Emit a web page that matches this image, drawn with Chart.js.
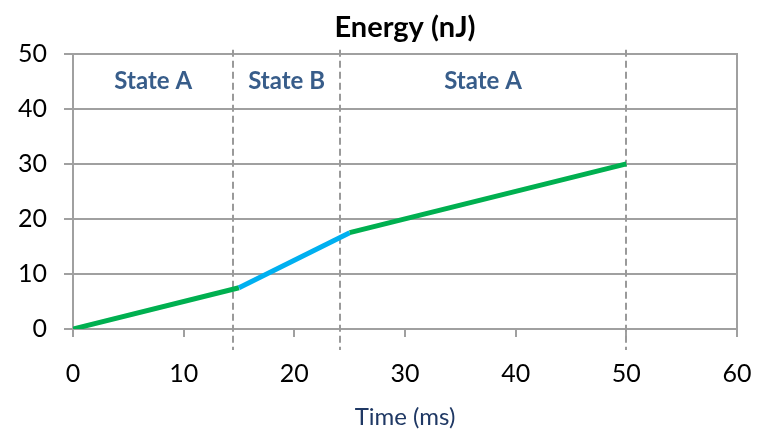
<!DOCTYPE html>
<html><head><meta charset="utf-8">
<script src="https://cdn.jsdelivr.net/npm/chart.js@4/dist/chart.umd.min.js"></script>
<style>html,body{margin:0;padding:0;background:#fff}#wrap{width:760px;height:430px}</style>
</head><body><div id="wrap"><canvas id="c"></canvas></div>
<script>
const times = [0, 15, 25, 50];
const energy = [0, 7.5, 17.5, 30];
const segmentStates = ['A', 'B', 'A'];
const stateBoundaries = [0, 14.5, 24.1, 50];
const stateLabels = ['State A', 'State B', 'State A'];
const stateLabelY = 45;
const xTicks = [0, 10, 20, 30, 40, 50, 60];
const yTicks = [0, 10, 20, 30, 40, 50];

const FONT = 'Lato, "Liberation Sans", sans-serif';
const GRID = '#a0a0a0';
const stateColor = {A: '#00b050', B: '#00b0f0'};

const overlay = {
  id: 'overlay',
  beforeDatasetsDraw(chart) {
    const {ctx, scales: {x, y}} = chart;
    ctx.save();
    ctx.strokeStyle = '#9a9a9a';
    ctx.lineWidth = 2;
    ctx.setLineDash([7, 4]);
    const top = y.getPixelForValue(50) - 4;
    const bot = y.getPixelForValue(0) + 21;
    stateBoundaries.slice(1).forEach(v => {
      const px = Math.round(x.getPixelForValue(v));
      ctx.beginPath(); ctx.moveTo(px, top); ctx.lineTo(px, bot); ctx.stroke();
    });
    ctx.setLineDash([]);
    ctx.fillStyle = '#385d8a';
    ctx.font = 'bold 24px ' + FONT;
    ctx.textAlign = 'center'; ctx.textBaseline = 'middle';
    stateLabels.forEach((t, i) => {
      const cx = x.getPixelForValue((stateBoundaries[i] + stateBoundaries[i + 1]) / 2);
      ctx.fillText(t, cx, y.getPixelForValue(stateLabelY));
    });
    ctx.restore();
  }
};

new Chart(document.getElementById('c'), {
  type: 'line',
  data: {
    datasets: [{
      data: times.map((t, i) => ({x: t, y: energy[i]})),
      borderColor: stateColor.A,
      borderWidth: 5,
      borderCapStyle: 'butt',
      pointRadius: 0,
      tension: 0,
      segment: { borderColor: c => stateColor[segmentStates[c.p0DataIndex]] }
    }]
  },
  options: {
    responsive: true, maintainAspectRatio: false, animation: false,
    layout: {padding: {left: 0, right: 23, top: 0, bottom: 0}},
    plugins: {
      legend: {display: false}, tooltip: {enabled: false},
      title: {display: true, fullSize: false, text: 'Energy (nJ)', color: '#000',
        font: {family: FONT, size: 29, weight: 'bold'}, padding: {top: 10, bottom: 9}}
    },
    scales: {
      x: {
        type: 'linear', min: 0, max: 60,
        afterBuildTicks: s => { s.ticks = xTicks.map(v => ({value: v})); },
        afterFit: s => { s.height = 101; s.paddingLeft = 0; s.paddingRight = 0; },
        grid: {drawOnChartArea: false, drawTicks: true, tickLength: 8, color: GRID, lineWidth: 2},
        border: {display: true, color: GRID, width: 2},
        ticks: {color: '#000', font: {family: FONT, size: 25}, padding: 22, maxRotation: 0},
        title: {display: true, text: 'Time (ms)', color: '#1f3864',
          font: {family: FONT, size: 24}, padding: {top: 0, bottom: -2}}
      },
      y: {
        min: 0, max: 50,
        afterBuildTicks: s => { s.ticks = yTicks.map(v => ({value: v})); },
        afterFit: s => { s.width = 73; s.paddingTop = 0; s.paddingBottom = 0; },
        grid: {color: GRID, lineWidth: 2, tickLength: 9},
        border: {display: true, color: GRID, width: 2},
        ticks: {color: '#000', font: {family: FONT, size: 25}, padding: 17}
      },
      y2: {
        position: 'right', min: 0, max: 50,
        afterFit: s => { s.width = 0; },
        grid: {drawOnChartArea: false, drawTicks: false},
        border: {display: true, color: GRID, width: 2},
        ticks: {display: false}
      }
    }
  },
  plugins: [overlay]
});
</script></body></html>
